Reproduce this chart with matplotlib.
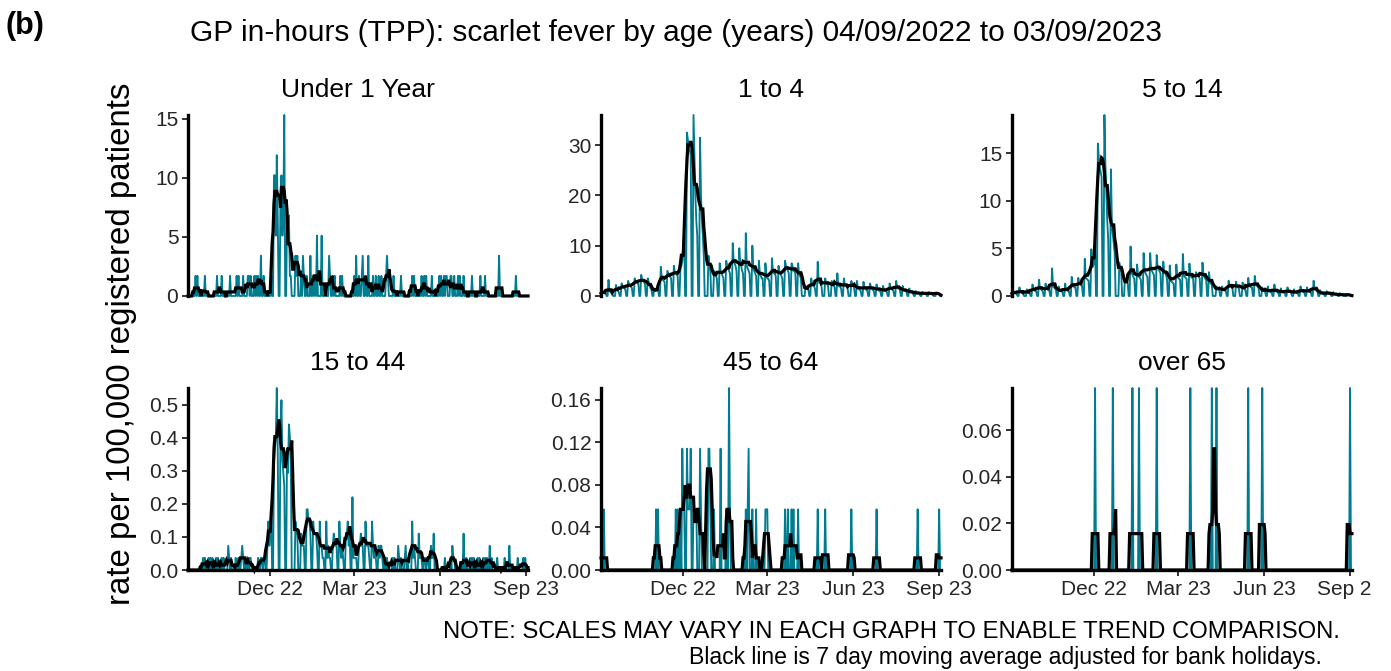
import numpy as np
import pandas as pd
import matplotlib
matplotlib.use('Agg')
import matplotlib.pyplot as plt
import matplotlib.dates as mdates
from matplotlib.ticker import FormatStrFormatter
from matplotlib.transforms import Bbox

plt.rcParams['font.family'] = ['Liberation Sans', 'DejaVu Sans']

TEAL = '#007C91'

start = np.datetime64('2022-09-04')
n_days = 365
bank_holidays = ['2022-09-19', '2022-12-26', '2022-12-27', '2023-01-02',
                 '2023-04-07', '2023-04-10', '2023-05-01', '2023-05-08',
                 '2023-05-29', '2023-08-28']

# weekday (Mon-Fri) rates per 100,000, one row per week starting Sunday 04/09/2022
rate_1_4 = [
    [1.2, 0.8, 0.6, 0.5, 0.5], [3.2, 1.0, 0.8, 0.6, 0.5], [0, 2.2, 1.3, 1.0, 0.8],
    [2.5, 2.0, 1.8, 1.5, 1.3], [3.0, 2.3, 2.0, 1.8, 1.6], [3.5, 3.0, 2.8, 2.5, 2.4],
    [4.2, 3.2, 3.0, 2.7, 2.4], [3.5, 2.8, 2.4, 1.5, 1.2], [1.5, 1.0, 1.0, 1.2, 1.5],
    [5.8, 3.6, 3.3, 3.0, 2.8], [5.0, 4.5, 4.0, 3.8, 3.5], [6.0, 4.5, 4.5, 4.2, 4.0],
    [5.5, 6.0, 7.0, 10.0, 12.0], [32.5, 31.0, 30.0, 29.0, 28.0], [36.0, 28.0, 20.0, 15.0, 12.0],
    [31.5, 20.0, 15.0, 12.0, 8.0], [0, 0, 8.0, 6.0, 5.0], [0, 5.0, 4.5, 4.0, 3.5],
    [6.5, 5.0, 4.5, 4.0, 3.5], [7.0, 6.0, 5.5, 5.0, 4.5], [10.5, 7.0, 6.5, 6.0, 5.0],
    [9.5, 6.5, 6.0, 5.0, 4.5], [12.5, 6.0, 5.5, 5.0, 4.5], [10.0, 5.5, 5.0, 4.5, 4.0],
    [7.0, 4.5, 4.0, 3.5, 3.5], [6.5, 4.0, 3.5, 3.5, 3.0], [7.5, 5.0, 4.5, 4.5, 4.0],
    [6.0, 5.0, 4.5, 4.0, 3.5], [7.0, 6.0, 5.5, 5.0, 4.5], [6.5, 6.0, 5.0, 5.0, 4.5],
    [6.5, 4.5, 4.0, 3.5, 0], [0, 2.0, 1.5, 1.5, 1.2], [3.5, 2.5, 2.0, 2.0, 1.5],
    [6.8, 3.0, 2.5, 2.5, 2.0], [0, 3.5, 2.5, 2.5, 2.0], [0, 3.0, 2.5, 2.0, 1.8],
    [4.5, 2.0, 2.0, 1.8, 1.5], [3.5, 2.2, 2.0, 1.8, 1.5], [0, 3.0, 2.0, 2.0, 1.5],
    [3.0, 1.5, 1.5, 1.2, 1.0], [2.8, 1.5, 1.5, 1.2, 1.2], [2.5, 1.8, 1.5, 1.2, 1.0],
    [2.3, 1.5, 1.2, 1.0, 1.0], [2.0, 1.2, 1.0, 1.0, 0.8], [2.5, 1.5, 1.5, 1.2, 1.0],
    [3.0, 1.8, 1.5, 1.5, 1.2], [2.0, 1.2, 1.0, 1.0, 0.8], [1.5, 0.8, 0.8, 0.6, 0.5],
    [1.0, 0.6, 0.5, 0.5, 0.4], [0.8, 0.5, 0.5, 0.4, 0.4], [0.8, 0.5, 0.4, 0.4, 0.4],
    [0, 0.7, 0.5, 0.4, 0.4],
]

rate_5_14 = [
    [0.6, 0.4, 0.3, 0.3, 0.2], [0.9, 0.4, 0.4, 0.3, 0.3], [0, 0.7, 0.4, 0.3, 0.3],
    [1.2, 0.7, 0.6, 0.5, 0.5], [1.7, 0.8, 0.7, 0.6, 0.5], [1.3, 0.8, 0.7, 0.6, 0.6],
    [2.9, 1.0, 0.9, 0.8, 0.7], [1.0, 0.6, 0.5, 0.5, 0.4], [1.3, 0.6, 0.6, 0.5, 0.5],
    [2.0, 1.1, 1.0, 0.9, 0.9], [1.9, 1.3, 1.2, 1.1, 1.1], [3.9, 1.9, 1.8, 1.7, 1.6],
    [4.9, 3.0, 3.2, 3.5, 5.5], [16.0, 14.5, 13.5, 13.0, 12.5], [19.0, 14.0, 11.0, 8.0, 6.0],
    [13.3, 7.5, 6.5, 5.5, 4.5], [0, 0, 3.5, 3.0, 2.5], [0, 1.8, 1.5, 1.4, 1.3],
    [5.2, 2.5, 2.2, 2.0, 1.8], [3.3, 2.2, 2.0, 1.9, 1.7], [4.5, 2.6, 2.4, 2.2, 2.0],
    [4.5, 2.8, 2.6, 2.4, 2.2], [4.3, 3.0, 2.8, 2.6, 2.4], [3.6, 2.6, 2.4, 2.2, 1.8],
    [3.2, 1.6, 1.5, 1.4, 1.3], [3.3, 2.0, 1.9, 1.8, 1.7], [4.4, 2.2, 2.0, 1.9, 1.8],
    [3.4, 2.2, 2.0, 1.9, 1.8], [2.5, 2.3, 2.1, 2.0, 1.9], [3.5, 2.2, 2.0, 1.8, 1.7],
    [2.5, 1.5, 1.3, 1.2, 0], [0, 1.0, 0.8, 0.7, 0.6], [1.0, 0.7, 0.6, 0.6, 0.5],
    [1.6, 1.1, 1.0, 0.9, 0.9], [0, 1.5, 1.0, 0.9, 0.8], [0, 1.4, 0.8, 0.7, 0.6],
    [1.9, 1.1, 1.0, 0.9, 0.9], [2.1, 1.2, 1.1, 1.0, 0.9], [0, 0.9, 0.6, 0.5, 0.5],
    [1.0, 0.5, 0.5, 0.4, 0.4], [1.2, 0.5, 0.5, 0.4, 0.4], [0.8, 0.4, 0.4, 0.4, 0.3],
    [0.9, 0.5, 0.4, 0.4, 0.3], [0.7, 0.4, 0.4, 0.3, 0.3], [1.0, 0.5, 0.5, 0.4, 0.4],
    [0.9, 0.5, 0.5, 0.4, 0.4], [1.6, 0.7, 0.6, 0.6, 0.5], [0.6, 0.3, 0.3, 0.2, 0.2],
    [0.5, 0.3, 0.3, 0.2, 0.2], [0.4, 0.2, 0.2, 0.1, 0.1], [0.3, 0.1, 0.1, 0.1, 0.1],
    [0, 0.2, 0.1, 0.1, 0.1],
]

# weekday consultation counts; rate per single consultation below
count_under_1 = [
    [0, 0, 0, 0, 0], [1, 0, 1, 0, 0], [0, 0, 0, 1, 0], [0, 0, 0, 0, 0], [0, 0, 1, 0, 0],
    [1, 0, 0, 0, 0], [0, 0, 1, 0, 0], [0, 0, 1, 0, 1], [0, 0, 1, 0, 0], [1, 1, 0, 1, 0],
    [1, 0, 1, 0, 1], [2, 0, 0, 1, 0], [0, 0, 0, 0, 1], [6, 6, 3, 7, 4], [5, 6, 3, 4, 9],
    [4, 3, 4, 1, 1], [0, 0, 2, 1, 2], [0, 1, 0, 2, 1], [1, 0, 0, 0, 2], [1, 0, 1, 0, 3],
    [0, 0, 3, 0, 0], [0, 0, 0, 2, 1], [1, 0, 1, 0, 0], [0, 1, 0, 1, 0], [0, 0, 0, 0, 0],
    [0, 0, 1, 0, 2], [1, 0, 0, 1, 2], [1, 0, 0, 2, 0], [0, 1, 0, 0, 1], [1, 0, 0, 1, 0],
    [0, 1, 2, 1, 0], [0, 0, 1, 0, 0], [0, 0, 0, 1, 0], [0, 0, 0, 0, 0], [0, 1, 0, 1, 0],
    [0, 0, 0, 0, 1], [1, 0, 1, 0, 0], [0, 1, 0, 0, 0], [0, 0, 1, 0, 1], [1, 0, 1, 1, 0],
    [1, 1, 0, 0, 1], [0, 1, 0, 1, 0], [1, 0, 0, 0, 0], [0, 0, 1, 0, 0], [0, 0, 0, 0, 1],
    [0, 0, 1, 0, 0], [0, 0, 0, 0, 0], [0, 0, 0, 2, 0], [0, 0, 0, 0, 0], [0, 0, 0, 0, 0],
    [1, 0, 0, 0, 0], [0, 0, 0, 0, 0],
]
unit_under_1 = 1.7

count_15_44 = [
    [0, 0, 0, 0, 0], [0, 0, 0, 0, 0], [0, 1, 0, 1, 0], [1, 0, 1, 0, 1], [0, 1, 0, 1, 0],
    [1, 0, 1, 0, 0], [2, 1, 0, 1, 0], [0, 1, 0, 0, 1], [1, 2, 1, 0, 1], [1, 0, 1, 1, 0],
    [0, 0, 0, 0, 1], [1, 1, 0, 1, 1], [2, 4, 2, 3, 5], [9, 10, 11, 15, 10], [12, 14, 9, 8, 7],
    [10, 8, 12, 11, 9], [0, 0, 4, 3, 3], [0, 3, 2, 2, 2], [5, 5, 4, 4, 3], [4, 3, 3, 3, 2],
    [4, 2, 2, 1, 1], [4, 1, 2, 1, 1], [2, 3, 2, 2, 2], [4, 2, 1, 2, 1], [3, 3, 4, 2, 3],
    [6, 1, 1, 1, 1], [2, 2, 3, 2, 2], [4, 2, 2, 2, 1], [4, 2, 1, 2, 1], [2, 1, 2, 2, 1],
    [1, 0, 1, 0, 0], [0, 1, 0, 1, 0], [2, 1, 0, 1, 0], [1, 2, 0, 1, 0], [0, 4, 1, 2, 1],
    [0, 3, 1, 1, 1], [1, 1, 0, 1, 1], [2, 1, 1, 3, 0], [0, 0, 0, 0, 0], [0, 1, 0, 0, 0],
    [1, 0, 2, 1, 1], [0, 0, 0, 0, 0], [3, 0, 0, 1, 0], [1, 0, 1, 0, 1], [0, 1, 0, 1, 0],
    [1, 0, 1, 0, 1], [2, 0, 1, 0, 0], [0, 1, 0, 0, 0], [0, 0, 1, 0, 0], [2, 0, 0, 0, 0],
    [0, 0, 1, 0, 0], [0, 1, 0, 1, 0],
]
unit_15_44 = 0.0367

# sparse age groups: consultation dates and counts
dates_45_64 = ['2022-09-07', '2022-11-02', '2022-11-04', '2022-11-23', '2022-11-25',
               '2022-11-28', '2022-11-30', '2022-12-01', '2022-12-02', '2022-12-05',
               '2022-12-06', '2022-12-07', '2022-12-08', '2022-12-09', '2022-12-12',
               '2022-12-13', '2022-12-14', '2022-12-15', '2022-12-19', '2022-12-20',
               '2022-12-28', '2022-12-29', '2022-12-30', '2023-01-03', '2023-01-10',
               '2023-01-16', '2023-01-19', '2023-01-20', '2023-02-06', '2023-02-08',
               '2023-02-09', '2023-02-13', '2023-02-17', '2023-02-27', '2023-02-28',
               '2023-03-01', '2023-03-20', '2023-03-23', '2023-03-27', '2023-03-29',
               '2023-04-03', '2023-04-24', '2023-05-02', '2023-05-30', '2023-06-26',
               '2023-08-09', '2023-09-01']
counts_45_64 = [1, 1, 1, 1, 1,
                1, 2, 1, 1, 2,
                1, 1, 1, 2, 1,
                1, 1, 1, 2, 1,
                2, 2, 1, 1, 2,
                1, 3, 1, 1, 1,
                2, 1, 1, 1, 1,
                1, 1, 1, 1, 1,
                1, 1, 1, 1, 1,
                1, 1]
unit_45_64 = 0.057

dates_over_65 = ['2022-12-02', '2022-12-21', '2023-01-11', '2023-01-18', '2023-02-06',
                 '2023-03-14', '2023-04-06', '2023-04-11', '2023-05-15', '2023-05-30',
                 '2023-09-01']
counts_over_65 = [1, 1, 1, 1, 1, 1, 1, 1, 1, 1, 1]
unit_over_65 = 0.078

panel_titles = ['Under 1 Year', '1 to 4', '5 to 14', '15 to 44', '45 to 64', 'over 65']
panel_yticks = [[0, 5, 10, 15], [0, 10, 20, 30], [0, 5, 10, 15],
                [0, 0.1, 0.2, 0.3, 0.4, 0.5], [0, 0.04, 0.08, 0.12, 0.16],
                [0, 0.02, 0.04, 0.06]]
panel_yfmt = ['%d', '%d', '%d', '%.1f', '%.2f', '%.2f']

dates = pd.date_range(str(start), periods=n_days, freq='D')

# working-day calendar padded by 3 days each side for the centred window
cal = pd.date_range(dates[0] - pd.Timedelta(days=3), periods=n_days + 6, freq='D')
workday = ((cal.dayofweek < 5) & ~cal.isin(pd.to_datetime(bank_holidays))).astype(float)
n_work = pd.Series(workday).rolling(7, center=True).sum().to_numpy()[3:-3]


def from_weeks(rows, scale=1.0):
    out = np.zeros(n_days)
    for w, row in enumerate(rows):
        out[7 * w + 1:7 * w + 6] = np.array(row, dtype=float) * scale
    return out


def from_events(when, counts, scale):
    out = np.zeros(n_days)
    idx = (pd.to_datetime(when) - dates[0]).days
    out[idx] = np.array(counts) * scale
    return out


def moving_avg(vals):
    # centred 7 day mean over working days only
    s = pd.Series(vals).rolling(7, center=True, min_periods=1).sum().to_numpy()
    return np.where(n_work > 0, s / np.maximum(n_work, 1), 0)


series = [
    from_weeks(count_under_1, unit_under_1),
    from_weeks(rate_1_4),
    from_weeks(rate_5_14),
    from_weeks(count_15_44, unit_15_44),
    from_events(dates_45_64, counts_45_64, unit_45_64),
    from_events(dates_over_65, counts_over_65, unit_over_65),
]

fig = plt.figure(figsize=(13.91, 6.71), dpi=100)
lefts = [0.1352, 0.4321, 0.7275]
width = 0.2444
bottoms = [0.5589, 0.1505]
heights = [0.2697, 0.2712]

for i, vals in enumerate(series):
    r, c = divmod(i, 3)
    ax = fig.add_axes([lefts[c], bottoms[r], width, heights[r]])
    ax.plot(dates, vals, color=TEAL, lw=1.35, clip_on=False, zorder=2)
    ax.plot(dates, moving_avg(vals), color='black', lw=2.3, clip_on=False,
            solid_joinstyle='miter', zorder=3)
    ax.set_xlim(dates[0], dates[-1])
    ax.set_ylim(0, vals.max())
    ax.set_yticks(panel_yticks[i])
    ax.yaxis.set_major_formatter(FormatStrFormatter(panel_yfmt[i]))
    for side in ['top', 'right']:
        ax.spines[side].set_visible(False)
    for side in ['left', 'bottom']:
        ax.spines[side].set_linewidth(2.4)
        ax.spines[side].set_zorder(4)
    ax.tick_params(length=4, width=1.4, color='#333333', labelsize=15,
                   labelcolor='#262626', pad=3)
    ax.xaxis.set_major_locator(mdates.MonthLocator(bymonth=[3, 6, 9, 12]))
    ax.xaxis.set_major_formatter(mdates.DateFormatter('%b %y'))
    if r == 0:
        ax.spines['bottom'].set_visible(False)
        ax.tick_params(axis='x', bottom=False, labelbottom=False)
    ax.annotate(panel_titles[i], xy=(0.5, 1), xycoords='axes fraction',
                xytext=(0, 18), textcoords='offset points',
                ha='center', va='center', fontsize=19)
    if r == 1 and c == 2:
        # last date label runs off the page edge
        edge = Bbox.from_extents(0, 0, 1371, 671)
        for lab in ax.get_xticklabels():
            lab.set_clip_box(edge)
            lab.set_clip_on(True)

fig.text(0.004, 0.961, '(b)', fontsize=22, fontweight='bold', va='center')
fig.text(0.486, 0.951, 'GP in-hours (TPP): scarlet fever by age (years) 04/09/2022 to 03/09/2023',
         fontsize=21.5, ha='center', va='center')
fig.text(0.0877, 0.487, 'rate per 100,000 registered patients', fontsize=23.8,
         rotation=90, ha='center', va='center')
fig.text(0.9633, 0.0581, 'NOTE: SCALES MAY VARY IN EACH GRAPH TO ENABLE TREND COMPARISON.',
         fontsize=17.2, ha='right', va='center')
fig.text(0.9504, 0.0194, 'Black line is 7 day moving average adjusted for bank holidays.',
         fontsize=16.6, ha='right', va='center')

fig.savefig('out.png', dpi=100)
